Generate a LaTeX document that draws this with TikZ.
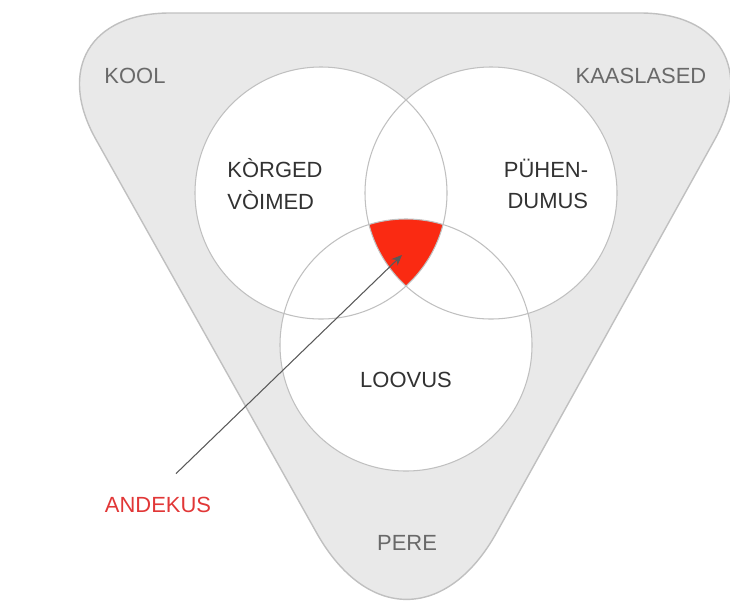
\documentclass[tikz,border=0pt]{standalone}
\usepackage{fontspec}
\setmainfont{Liberation Sans}
\usetikzlibrary{arrows.meta}
\definecolor{venngray}{RGB}{233,233,233}
\definecolor{vennline}{RGB}{192,192,192}
\definecolor{venntext}{RGB}{50,50,50}
\definecolor{vennlabel}{RGB}{105,105,105}
\definecolor{vennred}{RGB}{250,42,18}
\definecolor{vennredtext}{RGB}{225,55,55}

\begin{document}
\begin{tikzpicture}[x=0.02cm, y=-0.02cm,
        trait/.style={circle, minimum size=5.04cm, inner sep=0pt},
        word/.style={font=\fontsize{12.5}{18}\selectfont, text=venntext, align=left},
        outer/.style={font=\fontsize{12.5}{18}\selectfont, text=vennlabel},
        pointer/.style={-{Stealth[length=6pt,width=5pt]}, draw=black!65, line width=0.6pt},
    ]
        \useasboundingbox (0,0) rectangle (730,602);

        % Surroundings
        \draw[fill=venngray, draw=vennline, line width=0.8pt, rounded corners=2.9cm]
              (405,13) -- (785,13) [rounded corners=3.7cm] -- (407,694)
              [rounded corners=2.9cm] -- (25,13) -- cycle;

        % Circles
        \node[trait, fill=white] (ability)  at (321,193) {};
        \node[trait, fill=white] (commit)   at (491,193) {};
        \node[trait, fill=white] (creative) at (406,345) {};
        \begin{scope}
            \clip (ability.center) circle [radius=126];
            \clip (commit.center) circle [radius=126];
            \fill[vennred] (creative.center) circle [radius=126];
        \end{scope}
        \foreach \c in {ability,commit,creative}
            \draw[vennline, line width=0.6pt] (\c.center) circle [radius=126];

        % Labels
        \node[word] (korged) at (275,184) {KÒRGED\\VÒIMED};
        \node[word, align=right] (puhen) at (546,184) {PÜHEN-\\DUMUS};
        \node[word] (loovus) at (406,380) {LOOVUS};
        \node[outer] (kool) at (135,76) {KOOL};
        \node[outer] (kaaslased) at (641,76) {KAASLASED};
        \node[outer] (pere) at (407,543) {PERE};
        \node[outer, text=vennredtext] (andekus) at (158,505) {ANDEKUS};
        \coordinate (gifted) at (402,255);

        % Arrow
        \draw[pointer, shorten <=0.5cm] (andekus.north) -- (gifted);
    \end{tikzpicture}
\end{document}
